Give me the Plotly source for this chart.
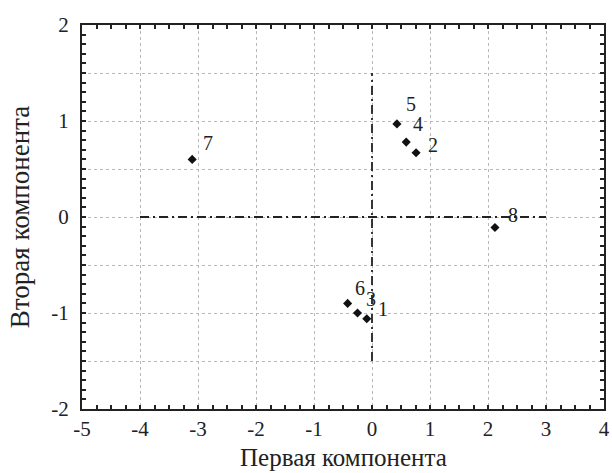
import plotly.graph_objects as go

# Data
point_labels = ["1", "2", "3", "4", "5", "6", "7", "8"]
comp1 = [-0.09, 0.76, -0.25, 0.59, 0.43, -0.42, -3.10, 2.12]
comp2 = [-1.06, 0.67, -1.00, 0.78, 0.97, -0.90, 0.60, -0.11]

# Reference (origin) lines
hline_x = [-4, 3]
hline_y = [0, 0]
vline_x = [0, 0]
vline_y = [-1.5, 1.5]

x_tickvals = [-5, -4, -3, -2, -1, 0, 1, 2, 3, 4]
x_ticktext = ["-5", "-4", "-3", "-2", "-1", "0", "1", "2", "3", "4"]
y_tickvals = [-2, -1.5, -1, -0.5, 0, 0.5, 1, 1.5, 2]
y_ticktext = ["-2", "", "-1", "", "0", "", "1", "", "2"]

x_title = "Первая компонента"
y_title = "Вторая компонента"

# label offsets in pixels (style)
label_offsets = {
    "1": (16, 10), "2": (17, 8), "3": (13, 14), "4": (12, 18),
    "5": (14, 20), "6": (12, 15), "7": (16, 16), "8": (18, 13),
}

FONT = "Liberation Serif, Times New Roman, serif"
INK = "#222"

fig = go.Figure()
fig.add_trace(go.Scatter(x=hline_x, y=hline_y, mode="lines",
                         line=dict(color=INK, width=1.8, dash="9px,4px,2px,4px"),
                         hoverinfo="skip", showlegend=False))
fig.add_trace(go.Scatter(x=vline_x, y=vline_y, mode="lines",
                         line=dict(color=INK, width=1.8, dash="9px,4px,2px,4px"),
                         hoverinfo="skip", showlegend=False))
fig.add_trace(go.Scatter(x=comp1, y=comp2, mode="markers",
                         marker=dict(symbol="diamond", size=7, color="#111"),
                         showlegend=False))

for lab, xv, yv in zip(point_labels, comp1, comp2):
    dx, dy = label_offsets[lab]
    fig.add_annotation(x=xv, y=yv, text=lab, showarrow=False,
                       xshift=dx, yshift=dy,
                       font=dict(family=FONT, size=20, color=INK))

# x-axis title as a paper annotation (placed below tick labels)
fig.add_annotation(x=0.5, y=0, xref="paper", yref="paper", text=x_title,
                   showarrow=False, xanchor="center", yanchor="middle", yshift=-48,
                   borderpad=0,
                   font=dict(family=FONT, size=25, color=INK))

axis_common = dict(
    showline=True, linecolor=INK, linewidth=2, mirror="allticks",
    ticks="inside", ticklen=4, tickwidth=2, tickcolor=INK,
    showgrid=True, gridcolor="#b8b8b8", griddash="dot", gridwidth=1,
    zeroline=False, automargin=False,
    tickfont=dict(family=FONT, size=21, color=INK),
)

fig.update_xaxes(range=[-5, 4], tickmode="array", tickvals=x_tickvals, ticktext=x_ticktext,
                 minor=dict(dtick=0.25, ticks="inside", ticklen=4, tickwidth=2,
                            tickcolor=INK, showgrid=False),
                 ticklabelstandoff=0,
                 **axis_common)
fig.update_yaxes(range=[-2, 2], tickmode="array", tickvals=y_tickvals, ticktext=y_ticktext,
                 minor=dict(dtick=0.1, ticks="inside", ticklen=4, tickwidth=2,
                            tickcolor=INK, showgrid=False),
                 ticklabelstandoff=7,
                 title=dict(text=y_title, font=dict(family=FONT, size=27, color=INK),
                            standoff=14),
                 **axis_common)

fig.update_layout(width=612, height=473, margin=dict(l=82, r=8, t=25, b=64),
                  plot_bgcolor="white", paper_bgcolor="white")

fig.write_html("out.html", config={"displayModeBar": False},
               post_script="document.body.style.margin='0';document.body.style.padding='0';")
